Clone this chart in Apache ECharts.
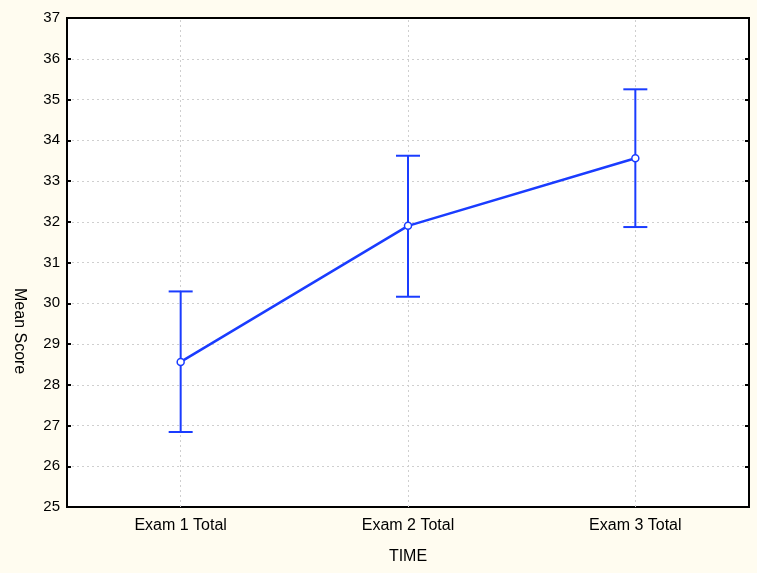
<!DOCTYPE html>
<html>
<head>
<meta charset="utf-8">
<script src="https://cdn.jsdelivr.net/npm/echarts@6/dist/echarts.min.js"></script>
<style>
  html, body { margin: 0; padding: 0; background: #fffcf0; }
  #chart { width: 757px; height: 573px; }
</style>
</head>
<body>
<div id="chart"></div>
<script>
// Mean exam scores with error bars
const categories = ['Exam 1 Total', 'Exam 2 Total', 'Exam 3 Total'];
const means = [28.56, 31.90, 33.56];
const upper = [30.29, 33.62, 35.25];
const lower = [26.84, 30.16, 31.87];

const blue = '#1a3cff';
const gridGray = '#cfcfcf';
const font = 'Liberation Sans, Arial, sans-serif';

const errorData = categories.map((c, i) => [i, lower[i], upper[i]]);

const chart = echarts.init(document.getElementById('chart'));
chart.setOption({
  backgroundColor: '#fffcf0',
  animation: false,
  grid: {
    left: 67, right: 8, top: 18, bottom: 66,
    show: true, backgroundColor: '#ffffff',
    borderColor: '#000', borderWidth: 2
  },
  xAxis: [{
    type: 'category',
    data: categories,
    boundaryGap: true,
    axisLine: { lineStyle: { color: '#000', width: 2 } },
    axisTick: { inside: true, length: 4, alignWithLabel: true, lineStyle: { color: '#000', width: 2 } },
    axisLabel: { color: '#000', fontFamily: font, fontSize: 16, margin: 11 },
    splitLine: { show: false },
    name: 'TIME', nameLocation: 'middle', nameGap: 42,
    nameTextStyle: { color: '#000', fontFamily: font, fontSize: 16, verticalAlign: 'top' }
  }, {
    type: 'category',
    data: categories,
    position: 'top',
    boundaryGap: true,
    axisLine: { lineStyle: { color: '#000', width: 2 } },
    axisTick: { inside: true, length: 4, alignWithLabel: true, lineStyle: { color: '#000', width: 2 } },
    axisLabel: { show: false }
  }],
  yAxis: [{
    type: 'value',
    min: 25, max: 37, interval: 1,
    axisLine: { show: true, lineStyle: { color: '#000', width: 2 } },
    axisTick: { show: true, inside: true, length: 4, lineStyle: { color: '#000', width: 2 } },
    axisLabel: { color: '#000', fontFamily: font, fontSize: 15, margin: 7 },
    splitLine: { show: true, lineStyle: { color: gridGray, type: [2, 3], width: 1 } }
  }, {
    type: 'value',
    min: 25, max: 37, interval: 1,
    position: 'right',
    axisLine: { show: true, lineStyle: { color: '#000', width: 2 } },
    axisTick: { show: true, inside: true, length: 4, lineStyle: { color: '#000', width: 2 } },
    axisLabel: { show: false },
    splitLine: { show: false }
  }],
  graphic: [{
    type: 'text',
    left: 11, top: 288,
    rotation: -Math.PI / 2,
    originX: 0, originY: 0,
    style: { text: 'Mean Score', fill: '#000', font: '16px ' + font }
  }],
  series: [{
    type: 'custom',
    data: errorData,
    z: 3,
    renderItem: function (params, api) {
      const x = api.value(0);
      const lo = api.coord([x, api.value(1)]);
      const hi = api.coord([x, api.value(2)]);
      const hw = 12;
      const st = { stroke: blue, lineWidth: 2 };
      return {
        type: 'group',
        children: [
          { type: 'line', shape: { x1: lo[0], y1: lo[1], x2: hi[0], y2: hi[1] }, style: st },
          { type: 'line', shape: { x1: lo[0] - hw, y1: lo[1], x2: lo[0] + hw, y2: lo[1] }, style: st },
          { type: 'line', shape: { x1: hi[0] - hw, y1: hi[1], x2: hi[0] + hw, y2: hi[1] }, style: st }
        ]
      };
    }
  }, {
    type: 'line',
    data: means,
    z: 4,
    symbol: 'circle',
    symbolSize: 7,
    showSymbol: true,
    lineStyle: { color: blue, width: 2.5 },
    itemStyle: { color: '#ffffff', borderColor: blue, borderWidth: 1.5 },
    // vertical dotted grid lines through each category
    markLine: {
      silent: true,
      symbol: 'none',
      z: 1,
      label: { show: false },
      lineStyle: { color: gridGray, type: [2, 3], width: 1 },
      data: categories.map(c => ({ xAxis: c }))
    }
  }]
});
</script>
</body>
</html>
